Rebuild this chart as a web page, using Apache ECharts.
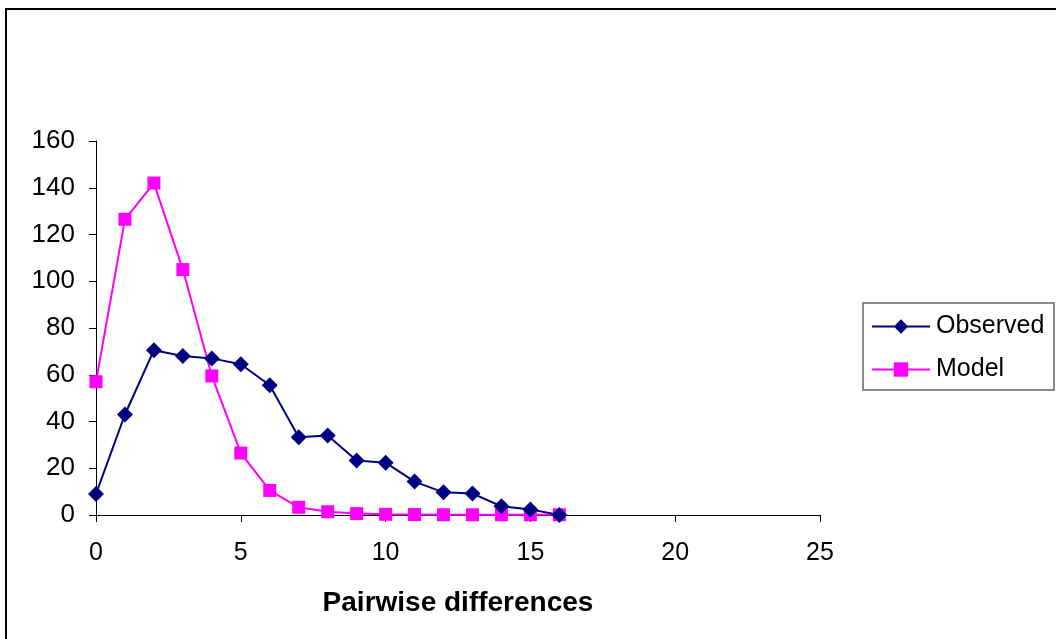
<!DOCTYPE html>
<html>
<head>
<meta charset="utf-8">
<script src="https://cdn.jsdelivr.net/npm/echarts@6/dist/echarts.min.js"></script>
<style>
  html, body { margin: 0; padding: 0; background: #fff; }
  #chart { width: 1056px; height: 639px; }
</style>
</head>
<body>
<div id="chart"></div>
<script>
// pairwise differences (x) and counts
const diffs = [0, 1, 2, 3, 4, 5, 6, 7, 8, 9, 10, 11, 12, 13, 14, 15, 16]
const observed = [9, 43, 70.5, 68, 67, 64.5, 55.5, 33.3, 34, 23.3, 22.4, 14.3, 9.7, 9.2, 3.7, 2.4, 0]
const model = [57, 126.5, 142, 105, 59.5, 26.5, 10.5, 3.3, 1.4, 0.6, 0.3, 0.2, 0.1, 0.1, 0.1, 0.1, 0.1]
const seriesNames = ['Observed', 'Model']

const font = '"Liberation Sans", Arial, sans-serif'
const pairs = (ys) => diffs.map((x, i) => [x, ys[i]])

const chart = echarts.init(document.getElementById('chart'))
chart.setOption({
  animation: false,
  backgroundColor: '#fff',
  textStyle: { fontFamily: font, color: '#000' },
  graphic: [
    // outer chart-area frame (runs off the right and bottom edges)
    {
      type: 'rect',
      shape: { x: 6, y: 9, width: 1200, height: 800 },
      style: { fill: 'none', stroke: '#000', lineWidth: 2 }
    },
    // legend box
    {
      type: 'rect',
      shape: { x: 863, y: 303, width: 191, height: 87 },
      style: { fill: '#fff', stroke: '#666', lineWidth: 1.5 },
      z: 0
    }
  ],
  grid: {
    left: 96,
    right: 236,
    top: 141,
    bottom: 124
  },
  legend: {
    data: seriesNames,
    orient: 'vertical',
    left: 871,
    top: 314,
    itemWidth: 58,
    itemHeight: 18,
    itemGap: 18,
    padding: 0,
    textStyle: { fontSize: 25, fontFamily: font, color: '#000', padding: [0, 0, 0, 1] }
  },
  xAxis: {
    type: 'value',
    min: 0,
    max: 25,
    interval: 5,
    name: 'Pairwise differences',
    nameLocation: 'middle',
    nameGap: 74,
    nameTextStyle: { fontSize: 28, fontWeight: 'bold', fontFamily: font, color: '#000' },
    splitLine: { show: false },
    axisLine: { lineStyle: { color: '#000', width: 1 } },
    axisTick: { show: true, inside: false, length: 7, lineStyle: { color: '#000' } },
    axisLabel: { fontSize: 25, margin: 26, color: '#000', fontFamily: font }
  },
  yAxis: {
    type: 'value',
    min: 0,
    max: 160,
    interval: 20,
    splitLine: { show: false },
    axisLine: { show: true, lineStyle: { color: '#000', width: 1 } },
    axisTick: { show: true, inside: false, length: 7, lineStyle: { color: '#000' } },
    axisLabel: { fontSize: 26, margin: 21, color: '#000', fontFamily: font }
  },
  series: [
    {
      name: 'Observed',
      type: 'line',
      data: pairs(observed),
      symbol: 'diamond',
      symbolSize: 16,
      lineStyle: { color: '#000080', width: 2 },
      itemStyle: { color: '#000080' },
      z: 3
    },
    {
      name: 'Model',
      type: 'line',
      data: pairs(model),
      symbol: 'rect',
      symbolSize: 13,
      lineStyle: { color: '#FF00FF', width: 2 },
      itemStyle: { color: '#FF00FF' },
      z: 2
    }
  ]
})
</script>
</body>
</html>
